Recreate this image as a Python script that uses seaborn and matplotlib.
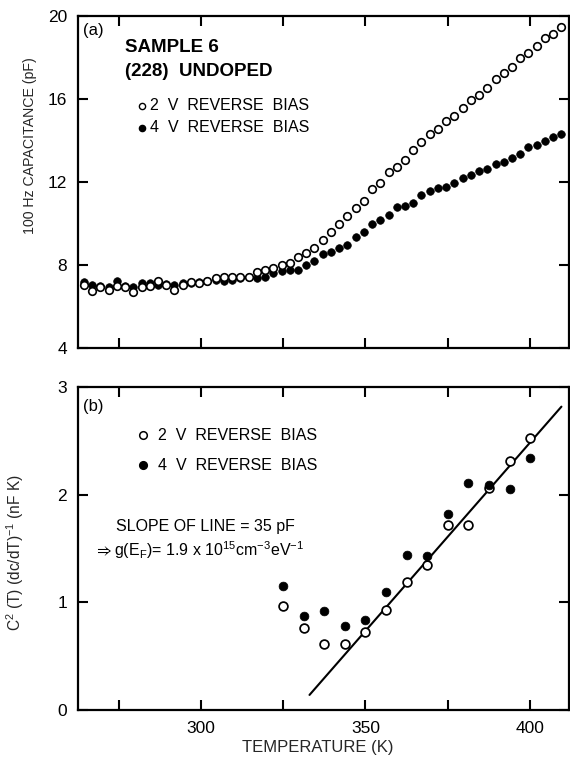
import numpy as np
import pandas as pd
import matplotlib
matplotlib.use("Agg")
import matplotlib.pyplot as plt
import seaborn as sns

# ---------------- data ----------------
# (a) 100 Hz capacitance vs temperature
temp_a = [264.5, 267.0, 269.5, 272.0, 274.5, 277.0, 279.5, 282.0, 284.5, 287.0,
          289.5, 292.0, 294.5, 297.0, 299.5, 302.0, 304.5, 307.0, 309.5, 312.0,
          314.5, 317.0, 319.5, 322.0, 324.5, 327.0, 329.5, 332.0, 334.5, 337.0,
          339.5, 342.0, 344.5, 347.0, 349.5, 352.0, 354.5, 357.0, 359.5, 362.0,
          364.5, 367.0, 369.5, 372.0, 374.5, 377.0, 379.5, 382.0, 384.5, 387.0,
          389.5, 392.0, 394.5, 397.0, 399.5, 402.0, 404.5, 407.0, 409.5]
cap_2v = [7.05, 6.75, 6.92, 6.80, 7.00, 6.95, 6.72, 6.95, 7.00, 7.25,
          7.05, 6.78, 7.02, 7.18, 7.12, 7.25, 7.35, 7.40, 7.42, 7.40,
          7.44, 7.68, 7.76, 7.84, 8.00, 8.11, 8.37, 8.56, 8.80, 9.20,
          9.58, 9.98, 10.36, 10.73, 11.09, 11.65, 11.94, 12.50, 12.74, 13.06,
          13.54, 13.94, 14.30, 14.54, 14.93, 15.17, 15.55, 15.93, 16.19, 16.51,
          16.95, 17.24, 17.56, 17.96, 18.23, 18.55, 18.92, 19.13, 19.48]
cap_4v = [7.18, 7.02, 7.00, 6.95, 7.25, 7.00, 6.95, 7.15, 7.15, 7.05,
          7.10, 7.05, 7.12, 7.15, 7.18, 7.25, 7.28, 7.25, 7.30, 7.36,
          7.41, 7.36, 7.44, 7.60, 7.72, 7.76, 7.76, 8.00, 8.21, 8.52,
          8.64, 8.80, 8.96, 9.36, 9.61, 9.98, 10.17, 10.40, 10.78, 10.84,
          10.97, 11.37, 11.58, 11.70, 11.77, 11.94, 12.18, 12.34, 12.54, 12.63,
          12.85, 12.95, 13.17, 13.34, 13.70, 13.78, 13.99, 14.18, 14.30]

# (b) C^2 (dC/dT)^-1 vs temperature
temp_b = [325.0, 331.25, 337.5, 343.75, 350.0, 356.25, 362.5, 368.75,
          375.0, 381.25, 387.5, 393.75, 400.0]
deriv_2v = [0.97, 0.76, 0.61, 0.61, 0.72, 0.93, 1.19, 1.35,
            1.72, 1.72, 2.06, 2.31, 2.53]
deriv_4v = [1.15, 0.87, 0.92, 0.78, 0.84, 1.10, 1.44, 1.43,
            1.82, 2.11, 2.09, 2.05, 2.34]

# fitted line: slope 35 pF = 0.035 nF, zero crossing near 329 K
line_slope = 0.035
line_t0 = 329.0
line_T = [333.0, 409.5]

x_ticks = [275, 300, 325, 350, 375, 400]
x_ticklabels = ["", "300", "", "350", "", "400"]
y_ticks_a = [4, 8, 12, 16, 20]
y_ticks_b = [0, 1, 2, 3]

df_a = pd.DataFrame({"T": temp_a, "c2": cap_2v, "c4": cap_4v})
df_b = pd.DataFrame({"T": temp_b, "d2": deriv_2v, "d4": deriv_4v})
df_line = pd.DataFrame({"T": line_T})
df_line["y"] = line_slope * (df_line["T"] - line_t0)

# ---------------- style ----------------
sns.set_style("ticks")
plt.rcParams["font.family"] = ["Liberation Sans", "DejaVu Sans"]
plt.rcParams["mathtext.fontset"] = "custom"
plt.rcParams["mathtext.rm"] = "Liberation Sans"
plt.rcParams["mathtext.default"] = "regular"

fig = plt.figure(figsize=(5.7, 7.57), dpi=100)
W, H = 570.0, 757.0
left, right = 78, 569
ax_a = fig.add_axes([left / W, 1 - 348 / H, (right - left) / W, (348 - 16) / H])
ax_b = fig.add_axes([left / W, 1 - 710 / H, (right - left) / W, (710 - 387) / H])

xlim = (262.7, 411.8)

for ax in (ax_a, ax_b):
    ax.set_xlim(*xlim)
    for s in ax.spines.values():
        s.set_linewidth(1.6)
        s.set_color("black")
    ax.tick_params(direction="in", length=7, width=1.5, top=True, right=True,
                   labelsize=12.5, colors="black")
    ax.tick_params(axis="y", pad=8)
    ax.tick_params(axis="x", pad=8)
    ax.set_xticks(x_ticks)

# ---- panel (a) ----
sns.scatterplot(data=df_a, x="T", y="c2", ax=ax_a, marker="o", s=30,
                color="white", edgecolor="black", linewidth=1.2, zorder=3)
sns.scatterplot(data=df_a, x="T", y="c4", ax=ax_a, marker="o", s=30,
                color="black", edgecolor="black", linewidth=0.5, zorder=2)
ax_a.set_ylim(4, 20)
ax_a.set_yticks(y_ticks_a)
ax_a.set_xticklabels([])
ax_a.set_xlabel("")
ax_a.set_ylabel("100 Hz CAPACITANCE (pF)", fontsize=10.2)
ax_a.yaxis.set_label_coords(-0.084, 0.61)

def ax_frac_a(px, py):
    return (px - left) / (right - left), (348 - py) / 332.0

def ax_frac_b(px, py):
    return (px - left) / (right - left), (710 - py) / 323.0

tx = dict(transform=ax_a.transAxes, va="center", ha="left", color="black")
ax_a.text(*ax_frac_a(83, 30), "(a)", fontsize=12, **tx)
ax_a.text(*ax_frac_a(125, 48), "SAMPLE 6", fontsize=13.5, fontweight="bold", **tx)
ax_a.text(*ax_frac_a(125, 72), "(228)  UNDOPED", fontsize=13.5, fontweight="bold", **tx)
for py, face, lab in [(106, "white", "2  V  REVERSE  BIAS"), (128, "black", "4  V  REVERSE  BIAS")]:
    mx, my = ax_frac_a(141.7, py)
    ax_a.scatter([mx], [my], s=20, facecolor=face, edgecolor="black", linewidth=1.0,
                 transform=ax_a.transAxes, zorder=4)
    ax_a.text(*ax_frac_a(150, py), lab, fontsize=11.5, **tx)

# ---- panel (b) ----
sns.lineplot(data=df_line, x="T", y="y", ax=ax_b, color="black", linewidth=1.5, zorder=1)
sns.scatterplot(data=df_b, x="T", y="d2", ax=ax_b, marker="o", s=40,
                color="white", edgecolor="black", linewidth=1.25, zorder=3)
sns.scatterplot(data=df_b, x="T", y="d4", ax=ax_b, marker="o", s=40,
                color="black", edgecolor="black", linewidth=0.5, zorder=3)
ax_b.set_ylim(0, 3)
ax_b.set_yticks(y_ticks_b)
ax_b.set_xticklabels(x_ticklabels)
ax_b.set_xlabel("TEMPERATURE (K)", fontsize=12)
ax_b.xaxis.set_label_coords(0.488, -0.092)
ax_b.set_ylabel(r"C$^2$ (T) (dc/dT)$^{-1}$ (nF K)", fontsize=11.2)
ax_b.yaxis.set_label_coords(-0.106, 0.486)

tb = dict(transform=ax_b.transAxes, va="center", ha="left", color="black")
ax_b.text(*ax_frac_b(83, 406), "(b)", fontsize=12, **tb)
for py, face, lab in [(435, "white", "2  V  REVERSE  BIAS"), (465, "black", "4  V  REVERSE  BIAS")]:
    mx, my = ax_frac_b(143.3, py)
    ax_b.scatter([mx], [my], s=30, facecolor=face, edgecolor="black", linewidth=1.1,
                 transform=ax_b.transAxes, zorder=4)
    ax_b.text(*ax_frac_b(158.3, py), lab, fontsize=11.5, **tb)
ax_b.text(*ax_frac_b(116, 527), "SLOPE OF LINE = 35 pF", fontsize=11.5, **tb)
ax_b.text(*ax_frac_b(93, 550),
          r"$\Rightarrow$g(E$_F$)= 1.9 x 10$^{15}$cm$^{-3}$eV$^{-1}$",
          fontsize=11.5, **tb)

fig.savefig("out.png", dpi=100)
